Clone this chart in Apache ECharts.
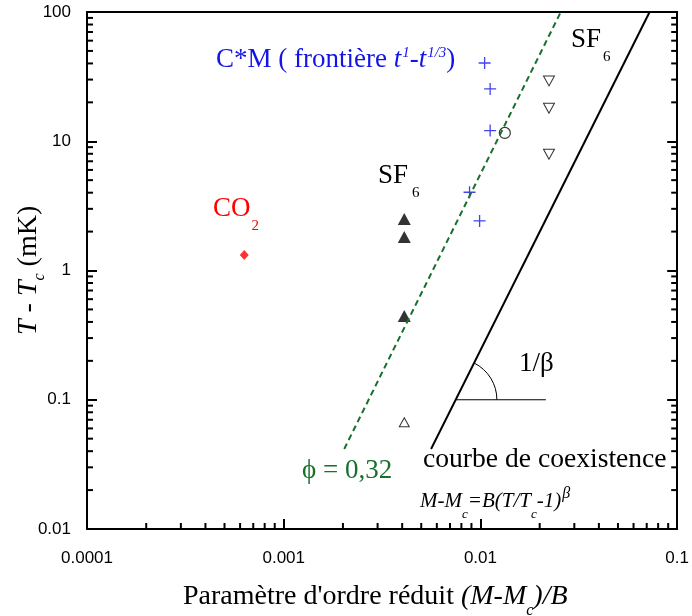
<!DOCTYPE html>
<html>
<head>
<meta charset="utf-8">
<script src="https://cdn.jsdelivr.net/npm/echarts@6/dist/echarts.min.js"></script>
<style>
  html, body { margin: 0; padding: 0; background: #fff; }
  #chart { width: 692px; height: 616px; }
</style>
</head>
<body>
<div id="chart"></div>
<script>
// Reduced order parameter (M-Mc)/B versus T - Tc (mK), log-log scales
const xTickLabels = ['0.0001', '0.001', '0.01', '0.1'];
const yTickLabels = ['0.01', '0.1', '1', '10', '100'];

const co2Points    = [[0.00063, 1.32]];
const sf6Filled    = [[0.0041, 2.5], [0.0041, 1.82], [0.0041, 0.445]];
const sf6Open      = [[0.0041, 0.067]];
const cmCrosses    = [[0.0105, 40.3], [0.0112, 25.4], [0.0112, 12.1], [0.0088, 4.03], [0.0099, 2.42]];
const circlePoints = [[0.0133, 11.6]];
const sf6Down      = [[0.0223, 29.3], [0.0223, 18.0], [0.0223, 7.93]];
const phiLine      = [[0.00203, 0.0416], [0.0256, 100]];
const coexLine     = [[0.00561, 0.0416], [0.0724, 100]];
const angleBase    = [[0.0075, 0.1], [0.0215, 0.1]];

const GREEN = '#17702b';
const BLUE = '#1414e6';
const RED = '#ff0000';
const SERIF = '"Liberation Serif", "Times New Roman", serif';

// minor ticks of the logarithmic frame (2..9 inside each decade)
const minorX = [], minorY = [];
for (const d of [1e-4, 1e-3, 1e-2]) for (let k = 2; k <= 9; k++) minorX.push(+(k * d).toPrecision(2));
for (const d of [0.01, 0.1, 1, 10]) for (let k = 2; k <= 9; k++) minorY.push(+(k * d).toPrecision(2));
const minorTicks = [
  ...minorX.map(v => [v, 0.01, 0]),   // bottom, pointing up
  ...minorY.map(v => [1e-4, v, 1]),   // left, pointing right
  ...minorY.map(v => [0.1, v, 2])     // right, pointing left
];

// text runs with sub/superscripts, laid out on a common baseline
const ctx = document.createElement('canvas').getContext('2d');
function run(x, baseline, parts, color, rotation) {
  let cx = 0;
  const children = [];
  for (const p of parts) {
    const style = p.italic ? 'italic' : 'normal';
    ctx.font = style + ' ' + p.size + 'px ' + SERIF;
    const w = ctx.measureText(p.text).width;
    cx += (p.dx || 0);
    children.push({
      type: 'text',
      x: cx,
      y: (p.dy || 0) - 0.21 * p.size,
      style: {
        text: p.text,
        fontSize: p.size,
        fontFamily: SERIF,
        fontStyle: style,
        fill: p.color || color,
        align: 'left',
        verticalAlign: 'middle'
      }
    });
    cx += w;
  }
  return { type: 'group', x: x, y: baseline, rotation: rotation || 0, silent: true, children };
}

const texts = [
  run(216, 66, [
    { text: 'C*M ( frontière ', size: 27 },
    { text: 't', size: 27, italic: true },
    { text: '1', size: 15, italic: true, dy: -10, dx: 1 },
    { text: '-', size: 27 },
    { text: 't', size: 27, italic: true },
    { text: '1/3', size: 15, italic: true, dy: -10, dx: 1 },
    { text: ')', size: 27 }
  ], BLUE),
  run(571, 46, [{ text: 'SF', size: 27 }, { text: '6', size: 15, dy: 14, dx: 2 }], '#000'),
  run(378, 182, [{ text: 'SF', size: 27 }, { text: '6', size: 15, dy: 14, dx: 4 }], '#000'),
  run(213, 215, [{ text: 'CO', size: 27 }, { text: '2', size: 15, dy: 14, dx: 1 }], RED),
  run(302, 477, [{ text: 'ϕ = 0,32', size: 27 }], GREEN),
  run(423, 466, [{ text: 'courbe de coexistence', size: 27.6 }], '#000'),
  run(420, 506, [
    { text: 'M-M', size: 21, italic: true },
    { text: 'c', size: 13, italic: true, dy: 11 },
    { text: '=B(T/T', size: 21, italic: true },
    { text: 'c', size: 13, italic: true, dy: 11 },
    { text: '-1)', size: 21, italic: true },
    { text: 'β', size: 16, italic: true, dy: -9, dx: 1 }
  ], '#000'),
  run(519, 370, [{ text: '1/β', size: 27 }], '#000'),
  run(183, 603, [
    { text: "Paramètre d'ordre réduit ", size: 28 },
    { text: '(M-M', size: 28, italic: true },
    { text: 'c', size: 16, italic: true, dy: 11 },
    { text: ')/B', size: 28, italic: true }
  ], '#000'),
  run(35, 335, [
    { text: 'T', size: 28, italic: true },
    { text: ' - ', size: 28 },
    { text: 'T', size: 28, italic: true },
    { text: 'c', size: 16, italic: true, dy: 8 },
    { text: ' (mK)', size: 28 }
  ], '#000', Math.PI / 2)
];

const frameLine = { show: true, onZero: false, lineStyle: { color: '#000', width: 2 } };
const majorTick = { show: true, inside: true, length: 10, lineStyle: { color: '#000', width: 2 } };
const tickFont = { fontSize: 17, fontFamily: '"Liberation Sans", Arial, sans-serif', color: '#000' };

const chart = echarts.init(document.getElementById('chart'), null, { renderer: 'canvas' });
chart.setOption({
  animation: false,
  backgroundColor: '#fff',
  grid: { left: 87, right: 11, top: 12, bottom: 87, containLabel: false },
  xAxis: [
    {
      type: 'log', logBase: 10, min: 1e-4, max: 0.1, position: 'bottom',
      axisLine: frameLine, axisTick: majorTick, splitLine: { show: false },
      axisLabel: Object.assign({ margin: 21,
        formatter: v => xTickLabels[Math.round(Math.log10(v)) + 4] }, tickFont)
    },
    {
      type: 'log', logBase: 10, min: 1e-4, max: 0.1, position: 'top',
      axisLine: frameLine, axisTick: { show: false }, axisLabel: { show: false }, splitLine: { show: false }
    }
  ],
  yAxis: [
    {
      type: 'log', logBase: 10, min: 0.01, max: 100, position: 'left',
      axisLine: frameLine, axisTick: majorTick, splitLine: { show: false },
      axisLabel: Object.assign({ margin: 16,
        formatter: v => yTickLabels[Math.round(Math.log10(v)) + 2] }, tickFont)
    },
    {
      type: 'log', logBase: 10, min: 0.01, max: 100, position: 'right',
      axisLine: frameLine, axisTick: majorTick, axisLabel: { show: false }, splitLine: { show: false }
    }
  ],
  graphic: texts,
  series: [
    {
      type: 'custom', name: 'minor ticks', clip: false, silent: true, z: 5,
      data: minorTicks, encode: { x: 0, y: 1 },
      renderItem(params, api) {
        const p = api.coord([api.value(0), api.value(1)]);
        const dir = api.value(2);
        const L = 6;
        let shape;
        if (dir === 0) shape = { x1: p[0], y1: p[1], x2: p[0], y2: p[1] - L };
        else if (dir === 1) shape = { x1: p[0], y1: p[1], x2: p[0] + L, y2: p[1] };
        else shape = { x1: p[0], y1: p[1], x2: p[0] - L, y2: p[1] };
        return { type: 'line', shape, style: { stroke: '#000', lineWidth: 2 } };
      }
    },
    {
      type: 'line', name: 'phi 0.32', data: phiLine, showSymbol: false, silent: true,
      lineStyle: { color: GREEN, width: 2, type: [6, 4] }
    },
    {
      type: 'line', name: 'courbe de coexistence', data: coexLine, showSymbol: false, silent: true,
      lineStyle: { color: '#000', width: 2 }
    },
    {
      type: 'custom', name: 'slope marker', clip: false, silent: true,
      data: [angleBase[0]], encode: { x: 0, y: 1 },
      renderItem(params, api) {
        const c = api.coord(angleBase[0]);
        const e = api.coord(angleBase[1]);
        const a = api.coord(coexLine[0]);
        const b = api.coord(coexLine[1]);
        const ang = Math.atan2(b[1] - a[1], b[0] - a[0]);
        return {
          type: 'group',
          children: [
            { type: 'line', shape: { x1: c[0], y1: c[1], x2: e[0], y2: e[1] }, style: { stroke: '#000', lineWidth: 1 } },
            { type: 'arc', shape: { cx: c[0], cy: c[1], r: 41, startAngle: ang, endAngle: 0, clockwise: true },
              style: { stroke: '#000', fill: null, lineWidth: 1 } }
          ]
        };
      }
    },
    {
      type: 'scatter', name: 'CO2', data: co2Points, symbol: 'diamond', symbolSize: [9, 10],
      itemStyle: { color: RED }
    },
    {
      type: 'scatter', name: 'SF6', data: sf6Filled, symbol: 'triangle', symbolSize: [13, 12],
      itemStyle: { color: '#000' }
    },
    {
      type: 'scatter', name: 'SF6 open', data: sf6Open, symbol: 'triangle', symbolSize: [10, 9],
      itemStyle: { color: '#fff', borderColor: '#000', borderWidth: 1 }
    },
    {
      type: 'scatter', name: 'C*M', data: cmCrosses, symbol: 'path://M5,0V10M0,5H10', symbolSize: 12,
      itemStyle: { color: 'none', borderColor: BLUE, borderWidth: 1.3 }
    },
    {
      type: 'scatter', name: 'circle', data: circlePoints, symbol: 'circle', symbolSize: 11,
      itemStyle: { color: '#fff', borderColor: '#000', borderWidth: 1.2 }
    },
    {
      type: 'scatter', name: 'SF6 down', data: sf6Down, symbol: 'triangle', symbolRotate: 180,
      symbolSize: [11, 10],
      itemStyle: { color: '#fff', borderColor: '#000', borderWidth: 1 }
    }
  ]
});
</script>
</body>
</html>
